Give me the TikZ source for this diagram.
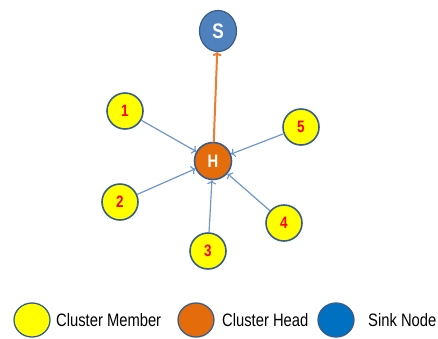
\documentclass[tikz,border=0pt]{standalone}
\usepackage{fontspec}
\setmainfont{Liberation Sans}
\newfontfamily\narrowfont[FakeStretch=0.82]{Liberation Sans}
\usetikzlibrary{positioning,shapes.geometric,arrows.meta}
\definecolor{memberfill}{RGB}{255,255,0}
\definecolor{nodeborder}{RGB}{56,93,138}
\definecolor{headfill}{RGB}{228,108,10}
\definecolor{sinkfill}{RGB}{79,129,189}
\definecolor{legendsink}{RGB}{0,112,192}
\definecolor{linkblue}{RGB}{110,150,206}
\definecolor{uplink}{RGB}{237,125,49}

\begin{document}
\begin{tikzpicture}[x=1pt, y=-1pt, >={To[length=4pt,width=9pt]},
  every member/.style={circle, draw=nodeborder, line width=1.6pt, fill=memberfill,
    minimum size=36pt, inner sep=0pt, text=red,
    font=\narrowfont\bfseries\fontsize{16.5}{16.5}\selectfont},
  cluster head/.style={circle, draw=nodeborder, line width=1.6pt, fill=headfill,
    minimum size=37pt, inner sep=0pt, text=white,
    font=\narrowfont\bfseries\fontsize{18}{18}\selectfont},
  sink node/.style={ellipse, draw=nodeborder, line width=1.2pt, fill=sinkfill,
    minimum width=37pt, minimum height=41pt, inner sep=0pt, text=white,
    font=\narrowfont\bfseries\fontsize{21}{21}\selectfont},
  member link/.style={->, draw=linkblue, line width=1.2pt},
  head link/.style={->, draw=uplink, line width=2pt},
  legend mark/.style={ellipse, draw=nodeborder, line width=1.3pt,
    minimum width=36pt, minimum height=34pt, inner sep=0pt},
  legend text/.style={anchor=west, inner sep=0pt,
    font=\narrowfont\fontsize{18}{18}\selectfont}]

\useasboundingbox (0,0) rectangle (438,338);

\node [sink node] (sink) at (218,31) {S};
\node [cluster head] (head) at (213,161) {H};

\foreach \m/\x/\y in {1/125/111, 2/120/202, 3/208/251, 4/284/223, 5/301/127}
  \node [every member] (member-\m) at (\x,\y) {\m};

\foreach \m in {1,...,5}
  \draw [member link] (member-\m) -- (head);

\draw [head link] (head) -- (sink);

% legend
\node [legend mark, fill=memberfill] (key-member) at (32,320) {};
\node [legend mark, fill=headfill] (key-head) at (196,320) {};
\node [legend mark, fill=legendsink] (key-sink) at (336,320) {};

\node [legend text] (label-member) at (56,320) {Cluster Member};
\node [legend text] (label-head) at (222,320) {Cluster Head};
\node [legend text] (label-sink) at (368,320) {Sink Node};

\end{tikzpicture}
\end{document}
